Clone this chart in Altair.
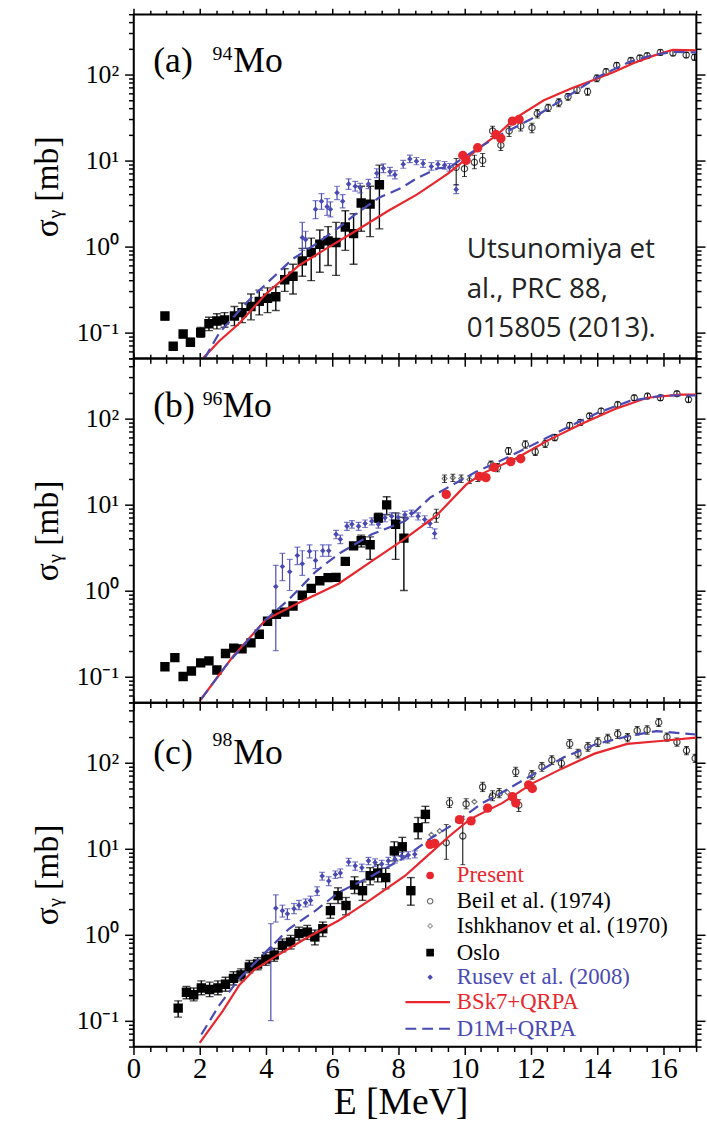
import altair as alt
import pandas as pd

RED = "#e8262d"
BLUE = "#4a4ab4"
SERIF = "Liberation Serif"
SANS = "Open Sans"

# ---------------- panel (a) 94Mo ----------------
a_oslo_E = [0.95, 1.2, 1.5, 1.72, 2.03, 2.28, 2.52, 2.75, 3.05, 3.28, 3.55, 3.8, 4.05, 4.3, 4.57, 4.82, 5.1, 5.37, 5.63, 5.88, 6.12, 6.4, 6.65, 6.88, 7.15, 7.43]
a_oslo_S = [0.155, 0.069, 0.096, 0.077, 0.100, 0.126, 0.136, 0.140, 0.155, 0.170, 0.200, 0.230, 0.250, 0.260, 0.41, 0.45, 0.68, 0.85, 1.06, 1.16, 1.11, 1.68, 1.41, 3.2, 3.1, 5.2]
a_oslo_lo = [0.14, 0.063, 0.087, 0.07, 0.088, 0.105, 0.11, 0.115, 0.12, 0.13, 0.14, 0.16, 0.17, 0.18, 0.30, 0.28, 0.45, 0.40, 0.50, 0.60, 0.46, 0.90, 0.62, 1.5, 1.3, 1.6]
a_oslo_hi = [0.17, 0.075, 0.105, 0.085, 0.114, 0.15, 0.165, 0.17, 0.20, 0.22, 0.28, 0.31, 0.33, 0.34, 0.55, 0.62, 0.95, 1.25, 1.55, 1.70, 1.90, 2.6, 2.4, 5.0, 5.0, 8.8]

a_rusev_E = [5.1, 5.2, 5.5, 5.68, 5.85, 5.95, 6.15, 6.32, 6.5, 6.7, 6.85, 7.1, 7.35, 7.55, 7.75, 7.9, 8.15, 8.35, 8.55, 8.75, 9.0, 9.2, 9.4, 9.55, 9.75]
a_rusev_S = [1.27, 1.2, 2.7, 3.35, 2.9, 2.7, 4.2, 3.35, 5.3, 5.0, 4.8, 5.3, 7.1, 8.1, 7.4, 6.8, 9.0, 10.4, 9.8, 9.2, 8.5, 9.0, 8.8, 8.3, 4.6]
a_rusev_lo = [0.9, 0.95, 2.1, 2.7, 2.3, 2.2, 3.5, 2.8, 4.6, 4.4, 4.2, 4.7, 6.3, 7.2, 6.6, 6.1, 8.1, 9.4, 8.9, 8.3, 7.7, 8.1, 7.9, 7.5, 4.1]
a_rusev_hi = [1.9, 1.5, 3.4, 4.1, 3.6, 3.3, 5.0, 4.0, 6.1, 5.7, 5.4, 6.0, 8.0, 9.1, 8.3, 7.6, 10.0, 11.5, 10.8, 10.2, 9.4, 9.9, 9.7, 9.2, 5.2]

a_present_E = [9.95, 10.05, 10.4, 10.95, 11.1, 11.45, 11.65]
a_present_S = [11.4, 10.0, 14.0, 20.0, 18.0, 28.6, 30.0]

a_beil_E = [9.75, 10.0, 10.3, 10.55, 10.85, 11.1, 11.35, 11.7, 12.04, 12.2, 12.53, 12.85, 13.13, 13.4, 13.72, 14.0, 14.28, 14.6, 15.03, 15.3, 15.52, 15.92, 16.3, 16.7, 16.95]
a_beil_S = [8.3, 8.0, 9.5, 10, 22, 15, 22, 25, 24, 35, 41, 47, 55, 66, 63, 90, 107, 127, 145, 155, 165, 180, 177, 168, 158]
a_beil_lo = [5.2, 6.5, 8.0, 8.5, 19, 13, 19, 22, 21, 31, 37, 42, 50, 60, 57, 82, 98, 117, 134, 143, 153, 167, 164, 156, 146]
a_beil_hi = [10.5, 10.0, 11.5, 12, 25, 17.5, 25, 28, 27, 39, 45, 52, 60, 72, 69, 98, 116, 137, 156, 167, 177, 193, 190, 180, 170]

a_bsk7_E = [2.1, 2.6, 3.2, 4.0, 5.0, 5.8, 6.7, 7.7, 8.56, 9.0, 9.5, 9.85, 10.5, 11.0, 11.54, 12.4, 13.24, 13.9, 14.53, 15.1, 15.72, 16.3, 17.0]
a_bsk7_S = [0.05, 0.08, 0.128, 0.28, 0.6, 0.93, 1.5, 2.6, 4.0, 5.2, 7.0, 9.0, 14.5, 20, 31, 50, 69, 86, 107, 135, 165, 193, 190]
a_d1m_E = [2.15, 2.6, 3.5, 4.8, 5.5, 6.2, 6.7, 7.4, 8.1, 8.56, 9.2, 9.55, 10.0, 11.0, 12.0, 13.0, 14.0, 15.0, 15.7, 16.3, 17.0]
a_d1m_S = [0.05, 0.1, 0.24, 0.71, 1.06, 1.65, 2.35, 3.65, 4.8, 6.2, 8.1, 8.3, 11, 19, 30, 52, 92, 140, 168, 182, 180]

# ---------------- panel (b) 96Mo ----------------
b_oslo_E = [0.95, 1.25, 1.5, 1.75, 2.03, 2.28, 2.52, 2.78, 3.03, 3.28, 3.55, 3.8, 4.05, 4.32, 4.57, 4.82, 5.1, 5.37, 5.63, 5.88, 6.12, 6.4, 6.65, 6.88, 7.15, 7.4, 7.65, 7.92, 8.17]
b_oslo_S = [0.13, 0.166, 0.1, 0.116, 0.144, 0.152, 0.119, 0.185, 0.214, 0.21, 0.246, 0.31, 0.44, 0.53, 0.56, 0.66, 0.88, 1.06, 1.3, 1.41, 1.42, 2.18, 3.3, 3.8, 3.4, 7.0, 9.9, 5.9, 4.06]
b_oslo_errE = [6.88, 7.15, 7.4, 7.65, 7.92, 8.17]
b_oslo_lo = [3.2, 2.3, 6.2, 7.6, 2.3, 1.0]
b_oslo_hi = [4.4, 4.2, 7.9, 12.3, 8.0, 7.1]

b_rusev_E = [4.3, 4.5, 4.72, 4.95, 5.1, 5.32, 5.5, 5.72, 5.9, 6.12, 6.25, 6.45, 6.6, 6.8, 7.0, 7.2, 7.4, 7.6, 7.8, 8.0, 8.2, 8.4, 8.6, 8.8, 8.96, 9.1]
b_rusev_S = [1.11, 1.9, 1.65, 2.55, 2.05, 2.86, 2.24, 2.9, 2.9, 4.5, 3.95, 5.6, 5.9, 5.6, 6.0, 6.4, 5.9, 7.0, 7.3, 7.1, 7.6, 7.9, 7.3, 6.7, 6.0, 4.6]
b_rusev_lo = [0.2, 1.3, 1.0, 2.0, 1.5, 2.4, 1.8, 2.5, 2.5, 4.0, 3.5, 5.0, 5.3, 5.0, 5.4, 5.8, 5.3, 6.3, 6.6, 6.4, 6.9, 7.2, 6.6, 6.0, 5.4, 4.0]
b_rusev_hi = [1.96, 2.7, 2.3, 3.2, 2.9, 3.4, 2.9, 3.4, 3.4, 5.0, 4.4, 6.2, 6.5, 6.2, 6.6, 7.0, 6.5, 7.7, 8.0, 7.8, 8.3, 8.6, 8.0, 7.4, 6.6, 5.2]

b_present_E = [9.45, 10.45, 10.65, 10.9, 11.4, 11.7]
b_present_S = [13.1, 21.2, 20.5, 27, 31.5, 34]

b_beil_E = [9.15, 10.8, 11.0, 11.33, 11.84, 12.14, 12.44, 12.73, 13.18, 13.5, 13.78, 14.13, 14.63, 15.13, 15.53, 15.92, 16.42, 16.77]
b_beil_S = [7.4, 29, 27, 42, 50, 41, 51, 60, 83, 90, 107, 122, 145, 174, 182, 174, 194, 166]
b_beil_lo = [6.2, 26, 24, 38, 45, 37, 46, 55, 76, 83, 99, 113, 135, 162, 170, 162, 181, 154]
b_beil_hi = [8.8, 32, 30, 46, 55, 45, 56, 65, 90, 97, 115, 131, 155, 186, 194, 186, 207, 178]

b_ishk_E = [9.4, 9.65, 9.9, 10.15, 10.4]
b_ishk_S = [20, 20.5, 20, 19.5, 20.5]
b_ishk_lo = [18, 18.5, 18, 17.5, 18.5]
b_ishk_hi = [22, 22.5, 22, 21.5, 22.5]

b_bsk7_E = [2.0, 3.0, 4.0, 5.0, 6.2, 7.2, 8.16, 9.15, 10.05, 10.55, 11.54, 12.54, 13.53, 14.53, 15.52, 16.52, 17.0]
b_bsk7_S = [0.052, 0.17, 0.46, 0.72, 1.2, 2.2, 3.9, 7.4, 17, 23, 34, 56, 86, 128, 174, 189, 189]
b_d1m_E = [2.05, 2.8, 4.0, 4.7, 5.5, 6.2, 7.2, 8.2, 8.96, 9.65, 10.35, 11.0, 12.0, 13.0, 14.0, 15.0, 16.0, 17.0]
b_d1m_S = [0.055, 0.135, 0.46, 0.79, 1.65, 2.67, 4.5, 6.4, 12, 17, 24, 31, 48, 75, 115, 160, 185, 185]

# ---------------- panel (c) 98Mo ----------------
c_oslo_E = [1.35, 1.6, 1.82, 2.05, 2.3, 2.55, 2.78, 3.02, 3.25, 3.5, 3.75, 4.0, 4.25, 4.5, 4.75, 5.0, 5.25, 5.48, 5.72, 5.95, 6.18, 6.42, 6.68, 6.92, 7.15, 7.38, 7.62, 7.88, 8.12, 8.38, 8.6, 8.82]
c_oslo_S = [0.14, 0.214, 0.2, 0.24, 0.23, 0.24, 0.265, 0.31, 0.34, 0.42, 0.455, 0.52, 0.58, 0.75, 0.82, 1.03, 1.07, 0.94, 1.17, 1.9, 2.84, 2.18, 3.78, 3.24, 4.84, 5.2, 4.6, 9.4, 10.5, 3.24, 17.5, 25]
c_oslo_lo = [0.11, 0.18, 0.17, 0.2, 0.19, 0.2, 0.22, 0.26, 0.29, 0.36, 0.39, 0.44, 0.49, 0.63, 0.68, 0.86, 0.88, 0.76, 0.95, 1.55, 2.3, 1.7, 3.0, 2.5, 3.8, 4.1, 3.4, 7.2, 8.2, 2.2, 13, 20]
c_oslo_hi = [0.17, 0.25, 0.24, 0.29, 0.28, 0.29, 0.32, 0.37, 0.40, 0.50, 0.54, 0.62, 0.69, 0.89, 0.98, 1.22, 1.28, 1.13, 1.40, 2.3, 3.5, 2.7, 4.7, 4.1, 6.0, 6.5, 5.9, 12.0, 13.5, 4.6, 23, 31]

c_rusev_E = [4.15, 4.3, 4.5, 4.65, 4.85, 5.0, 5.2, 5.35, 5.55, 5.7, 5.9, 6.1, 6.25, 6.5, 6.7, 6.9, 7.1, 7.3, 7.5, 7.7, 7.9, 8.1, 8.3, 8.5]
c_rusev_S = [0.69, 2.03, 1.9, 1.75, 2.0, 2.2, 2.34, 2.5, 3.2, 4.8, 4.2, 5.0, 5.2, 7.0, 6.3, 6.0, 7.2, 6.9, 6.6, 7.2, 7.5, 8.2, 8.4, 8.6]
c_rusev_lo = [0.1, 1.4, 1.6, 1.5, 1.75, 1.95, 2.1, 2.2, 2.85, 4.3, 3.7, 4.5, 4.6, 6.3, 5.6, 5.4, 6.5, 6.2, 5.9, 6.5, 6.8, 7.4, 7.6, 7.8]
c_rusev_hi = [1.34, 2.9, 2.2, 2.0, 2.3, 2.5, 2.6, 2.8, 3.6, 5.3, 4.7, 5.5, 5.8, 7.7, 7.0, 6.6, 7.9, 7.6, 7.3, 7.9, 8.2, 9.0, 9.2, 9.4]

c_present_E = [8.96, 9.1, 9.85, 10.2, 10.7, 11.45, 11.55, 11.94, 12.05]
c_present_S = [11.2, 11.5, 21.7, 21, 29.5, 40, 34, 55, 50]

c_beil_E = [9.45, 9.55, 9.95, 10.05, 10.55, 10.85, 11.05, 11.55, 11.64, 12.04, 12.34, 12.64, 12.93, 13.18, 13.43, 13.73, 14.03, 14.33, 14.63, 14.93, 15.22, 15.52, 15.87, 16.12, 16.42, 16.71, 16.97]
c_beil_S = [11.7, 34, 14, 33, 52, 41, 44, 78, 32, 72, 89, 107, 98, 165, 127, 152, 173, 190, 215, 195, 235, 240, 293, 198, 173, 138, 112]
c_beil_lo = [7.5, 30, 6.5, 29, 46, 36, 39, 69, 27, 64, 79, 95, 87, 147, 113, 135, 154, 169, 191, 174, 209, 214, 262, 177, 155, 123, 100]
c_beil_hi = [19, 39, 22, 38, 59, 47, 50, 88, 37, 81, 100, 120, 110, 185, 143, 171, 194, 213, 241, 218, 263, 268, 326, 221, 193, 154, 125]

c_ishk_E = [9.0, 9.25, 10.3, 10.8, 11.3]
c_ishk_S = [14.5, 16, 35, 40, 45]

c_bsk7_E = [2.0, 2.7, 3.2, 3.65, 4.2, 5.2, 6.2, 6.57, 7.2, 8.2, 8.76, 9.55, 10.15, 11.15, 12.04, 12.94, 13.93, 14.92, 15.92, 17.0]
c_bsk7_S = [0.055, 0.13, 0.26, 0.39, 0.53, 0.9, 1.46, 1.8, 2.6, 4.8, 7.5, 14, 21.7, 34, 57, 85, 127, 165, 178, 195]
c_d1m_E = [2.05, 2.6, 3.2, 4.0, 4.7, 5.5, 6.2, 7.2, 8.2, 8.96, 9.55, 10.55, 11.0, 12.0, 13.0, 14.0, 15.0, 15.8, 16.5, 17.0]
c_d1m_S = [0.069, 0.153, 0.31, 0.63, 1.17, 1.9, 3.1, 4.8, 7.9, 13, 18, 34, 42, 70, 115, 165, 205, 232, 220, 212]

# ---------------- axes / text ----------------
X_TICKS = [i / 2 for i in range(35)]
Y_TICKS = [0.05, 0.06, 0.07, 0.08, 0.09, 0.1, 0.2, 0.3, 0.4, 0.5, 0.6, 0.7, 0.8, 0.9,
           1, 2, 3, 4, 5, 6, 7, 8, 9, 10, 20, 30, 40, 50, 60, 70, 80, 90, 100, 200, 300, 400, 500]
Y_MAJOR_TEST = "datum.value == 0.1 || datum.value == 1 || datum.value == 10 || datum.value == 100"
Y_LABEL_EXPR = ("datum.value == 0.1 ? '10\u207b\u00b9' : datum.value == 1 ? '10\u2070' : "
                "datum.value == 10 ? '10\u00b9' : datum.value == 100 ? '10\u00b2' : ''")
X_MAJOR_TEST = "datum.value % 2 == 0"

legend_labels = ["Present", "Beil et al. (1974)", "Ishkhanov et al. (1970)", "Oslo",
                 "Rusev et al. (2008)", "BSk7+QRPA", "D1M+QRPA"]
legend_colors = [RED, "black", "black", "black", BLUE, RED, BLUE]
citation = ["Utsunomiya et", "al., PRC 88,", "015805 (2013)."]

W, H = 569, 348
xs = alt.Scale(domain=[0, 17], nice=False, zero=False)
ys = alt.Scale(type="log", domain=[0.05, 500], nice=False)


def left_axis():
    return alt.Axis(orient="left", values=Y_TICKS, labelExpr=Y_LABEL_EXPR, labelFont=SERIF,
                    labelFontSize={"condition": {"test": Y_MAJOR_TEST, "value": 26}, "value": 0},
                    labelColor="black", labelPadding=6, labelOverlap=False,
                    tickSize={"condition": {"test": Y_MAJOR_TEST, "value": 9}, "value": 5},
                    tickColor="black", tickWidth=1.5, domainColor="black", domainWidth=1.5,
                    grid=False, title="\u03c3\u1d67 [mb]", titleFont=SERIF, titleFontSize=34,
                    titleFontWeight="normal", titleColor="black", titlePadding=12)


def right_axis():
    return alt.Axis(orient="right", values=Y_TICKS, labels=False,
                    tickSize={"condition": {"test": Y_MAJOR_TEST, "value": 9}, "value": 5},
                    tickColor="black", tickWidth=1.5, domainColor="black", domainWidth=1.5,
                    grid=False, title=None)


def bottom_axis(show):
    kw = dict(orient="bottom", values=X_TICKS, labelOverlap=False, labelFlush=False,
              tickSize={"condition": {"test": X_MAJOR_TEST, "value": 8}, "value": 5},
              tickColor="black", tickWidth=1.5, domainColor="black", domainWidth=1.5, grid=False)
    if show:
        kw.update(labels=True, labelExpr="datum.value % 2 == 0 ? format(datum.value, 'd') : ''",
                  labelFont=SERIF,
                  labelFontSize={"condition": {"test": X_MAJOR_TEST, "value": 29}, "value": 0},
                  labelColor="black", labelPadding=0,
                  title="E [MeV]", titleFont=SERIF, titleFontSize=38, titleFontWeight="normal",
                  titleColor="black", titlePadding=1, titleX=270)
    else:
        kw.update(labels=False, title=None)
    return alt.Axis(**kw)


def top_axis():
    return alt.Axis(orient="top", values=X_TICKS, labels=False,
                    tickSize={"condition": {"test": X_MAJOR_TEST, "value": 6}, "value": 4},
                    tickColor="black", tickWidth=1.5, domainColor="black", domainWidth=1.5,
                    grid=False, title=None)


def line(E, S, **mk):
    return alt.Chart(pd.DataFrame({"E": E, "S": S})).mark_line(clip=True, **mk).encode(
        x=alt.X("E:Q", scale=xs, axis=None), y=alt.Y("S:Q", scale=ys, axis=None))


def pts(E, S, mark, **mk):
    c = alt.Chart(pd.DataFrame({"E": E, "S": S}))
    return getattr(c, mark)(clip=True, **mk).encode(
        x=alt.X("E:Q", scale=xs, axis=None), y=alt.Y("S:Q", scale=ys, axis=None))


def errs(E, lo, hi, color, width=1.4, cap=8):
    return alt.Chart(pd.DataFrame({"E": E, "lo": lo, "hi": hi})).mark_errorbar(
        ticks=True, size=cap, thickness=width, color=color, clip=True).encode(
        x=alt.X("E:Q", scale=xs, axis=None), y=alt.Y("lo:Q", scale=ys, axis=None), y2="hi:Q")


def txt(t, x, y, size, color="black", font=SERIF, align="left", baseline="alphabetic"):
    return alt.Chart(pd.DataFrame({"t": [t]})).mark_text(
        font=font, fontSize=size, color=color, align=align, baseline=baseline).encode(
        x=alt.value(x), y=alt.value(y), text="t:N")


def panel(tag, mass, pos, bsk, d1m, layers, show_x, extra):
    carrier = alt.Chart(pd.DataFrame({"E": bsk[0], "S": bsk[1]})).mark_line(
        clip=True, color=RED, strokeWidth=2.2).encode(
        x=alt.X("E:Q", scale=xs, axis=bottom_axis(show_x)),
        y=alt.Y("S:Q", scale=ys, axis=left_axis()))
    mirror = alt.Chart(pd.DataFrame({"E": bsk[0], "S": bsk[1]})).mark_point(
        opacity=0, clip=True).encode(
        x=alt.X("E:Q", scale=xs, axis=top_axis()),
        y=alt.Y("S:Q", scale=ys, axis=right_axis()))
    d1m_l = line(d1m[0], d1m[1], color=BLUE, strokeWidth=2.2, strokeDash=[11, 6])
    labels = [txt(tag, 20, pos[0], 36), txt(mass, pos[1], pos[2], 20),
              txt("Mo", pos[3], pos[0], 36)]
    return alt.layer(*layers, carrier, d1m_l, *extra[0], mirror, *labels, *extra[1]).resolve_axis(
        x="independent", y="independent").properties(width=W, height=H)


def std_points(oslo, rusev, beil, ishk=None):
    out = [pts(oslo[0], oslo[1], "mark_square", size=90, color="black", opacity=1),
           pts(rusev[0], rusev[1], "mark_point", shape="diamond", filled=True, size=32,
               color=BLUE, opacity=1),
           pts(beil[0], beil[1], "mark_point", shape="circle", filled=False, size=40,
               color="black", strokeWidth=1.2)]
    if ishk is not None:
        out.append(pts(ishk[0], ishk[1], "mark_point", shape="diamond", filled=False, size=25,
                       color="#444444", strokeWidth=1.2))
    return out


def present_pts(E, S):
    return pts(E, S, "mark_circle", size=90, color=RED, opacity=1)


# panel a
a_layers = [errs(a_oslo_E, a_oslo_lo, a_oslo_hi, "black"),
            errs(a_rusev_E, a_rusev_lo, a_rusev_hi, BLUE, 1.2, 6),
            errs(a_beil_E, a_beil_lo, a_beil_hi, "black", 1.0, 5)] + std_points(
    (a_oslo_E, a_oslo_S), (a_rusev_E, a_rusev_S), (a_beil_E, a_beil_S))
a_cite = [txt(citation[i], 337, [247, 287, 326][i], 28, "#222222", SANS) for i in range(3)]
pa = panel("(a)", "94", (58, 80, 46, 101), (a_bsk7_E, a_bsk7_S), (a_d1m_E, a_d1m_S),
           a_layers, False, ([present_pts(a_present_E, a_present_S)], a_cite))

# panel b
b_layers = [errs(b_oslo_errE, b_oslo_lo, b_oslo_hi, "black"),
            errs(b_rusev_E, b_rusev_lo, b_rusev_hi, BLUE, 1.2, 6),
            errs(b_beil_E, b_beil_lo, b_beil_hi, "black", 1.0, 5),
            errs(b_ishk_E, b_ishk_lo, b_ishk_hi, "black", 1.0, 5)] + std_points(
    (b_oslo_E, b_oslo_S), (b_rusev_E, b_rusev_S), (b_beil_E, b_beil_S),
    (b_ishk_E, b_ishk_S))
pb = panel("(b)", "96", (59, 70, 47, 90), (b_bsk7_E, b_bsk7_S), (b_d1m_E, b_d1m_S),
           b_layers, False, ([present_pts(b_present_E, b_present_S)], []))

# panel c with legend
c_layers = [errs(c_oslo_E, c_oslo_lo, c_oslo_hi, "black"),
            errs(c_rusev_E, c_rusev_lo, c_rusev_hi, BLUE, 1.2, 6),
            errs(c_beil_E, c_beil_lo, c_beil_hi, "black", 1.0, 5)] + std_points(
    (c_oslo_E, c_oslo_S), (c_rusev_E, c_rusev_S), (c_beil_E, c_beil_S),
    (c_ishk_E, c_ishk_S))

ROWS = [175, 201, 226, 253, 278, 303, 330]
one = pd.DataFrame({"k": [0]})
leg = [
    alt.Chart(one).mark_circle(size=60, color=RED, opacity=1).encode(
        x=alt.value(300), y=alt.value(ROWS[0])),
    alt.Chart(one).mark_point(shape="circle", filled=False, size=30, color="#333333",
                              strokeWidth=1.2).encode(x=alt.value(300), y=alt.value(ROWS[1])),
    alt.Chart(one).mark_point(shape="diamond", filled=False, size=22, color="#777777",
                              strokeWidth=1.2).encode(x=alt.value(300), y=alt.value(ROWS[2])),
    alt.Chart(one).mark_square(size=60, color="black", opacity=1).encode(
        x=alt.value(300), y=alt.value(ROWS[3])),
    alt.Chart(one).mark_point(shape="diamond", filled=True, size=30, color=BLUE,
                              opacity=1).encode(x=alt.value(300), y=alt.value(ROWS[4])),
    alt.Chart(one).mark_rule(color=RED, strokeWidth=2.2).encode(
        x=alt.value(275), x2=alt.value(320), y=alt.value(ROWS[5])),
    alt.Chart(one).mark_rule(color=BLUE, strokeWidth=2.2, strokeDash=[11, 6]).encode(
        x=alt.value(275), x2=alt.value(320), y=alt.value(ROWS[6])),
]
for i, lab in enumerate(legend_labels):
    leg.append(txt(lab, 327, ROWS[i], 23, legend_colors[i], SERIF, "left", "middle"))

pc = panel("(c)", "98", (62, 80, 44, 101), (c_bsk7_E, c_bsk7_S), (c_d1m_E, c_d1m_S),
           c_layers, True, ([present_pts(c_present_E, c_present_S)], leg))

chart = alt.vconcat(pa, pb, pc, spacing=0, bounds="flush").properties(
    padding={"left": 30, "top": 0, "right": 0, "bottom": 0},
    background="white",
).configure_view(stroke="black", strokeWidth=1.5)

chart.save("out.html", embed_options={"renderer": "svg", "actions": False})
